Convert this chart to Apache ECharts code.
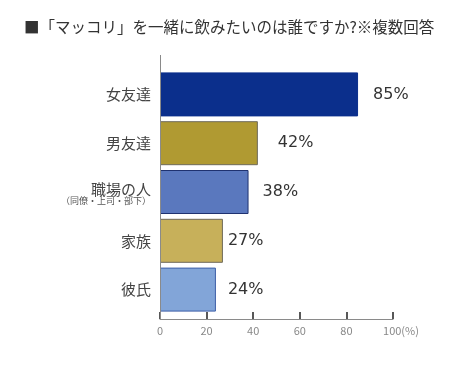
<!DOCTYPE html>
<html>
<head>
<meta charset="utf-8">
<script src="https://cdn.jsdelivr.net/npm/echarts@6/dist/echarts.min.js"></script>
<style>
html,body{margin:0;padding:0;background:#fff;}
#main{width:455px;height:377px;}
</style>
</head>
<body>
<div id="main"></div>
<script>
// 回答項目と割合(%)
var categories = ['女友達', '男友達', '職場の人', '家族', '彼氏'];
var values = [85, 42, 38, 27, 24];
var barColors = ['#0b2f8c', '#b09a32', '#5a78be', '#c7b05a', '#82a5d8'];
var borderColors = ['#0b2f8c', '#6e6a5a', '#1f3270', '#6e6a5a', '#3d5fa8'];
var labelGaps = [15, 20, 14, 5, 12];
var xTicks = [0, 20, 40, 60, 80, 100];

var font = '"Noto Sans CJK JP", "Noto Sans", sans-serif';

var dom = document.getElementById('main');
var myChart = echarts.init(dom);

var seriesData = [];
for (var i = 0; i < values.length; i++) {
    seriesData.push({
        value: values[i],
        itemStyle: {color: barColors[i], borderColor: borderColors[i], borderWidth: 1},
        label: {distance: labelGaps[i]}
    });
}

option = {
    animation: false,
    title: {
        text: '■「マッコリ」を一緒に飲みたいのは誰ですか?※複数回答',
        left: 19,
        top: 14,
        textStyle: {fontFamily: font, fontSize: 15.5, fontWeight: 'normal', color: '#333'}
    },
    grid: {left: 160, right: 62, top: 70, bottom: 63},
    xAxis: {
        type: 'value',
        min: xTicks[0],
        max: xTicks[xTicks.length - 1],
        interval: 20,
        offset: 5,
        axisLine: {show: true, lineStyle: {color: '#8a8a8a', width: 1}},
        axisTick: {show: true, inside: true, length: 7, lineStyle: {color: '#222', width: 1.5}},
        splitLine: {show: false},
        axisLabel: {
            fontFamily: font, fontSize: 11, color: '#888', margin: 6,
            formatter: function (v) {
                return v === 100 ? '{p|100(%)}' : String(v);
            },
            rich: {p: {fontFamily: font, fontSize: 11, color: '#888', padding: [0, 0, 0, 16]}}
        }
    },
    yAxis: {
        type: 'category',
        inverse: true,
        data: categories,
        axisLine: {show: false},
        axisTick: {show: false},
        axisLabel: {
            fontFamily: font, fontSize: 15, color: '#444', margin: 9,
            formatter: function (v) {
                if (v === '職場の人') {
                    return '{a|職場の人}\n{b|（同僚・上司・部下）}';
                }
                return v;
            },
            rich: {
                a: {fontFamily: font, fontSize: 15, color: '#444', lineHeight: 18, align: 'right', padding: [8, 0, 0, 0]},
                b: {fontFamily: font, fontSize: 9, color: '#555', lineHeight: 14, align: 'right'}
            }
        }
    },
    graphic: [{
        type: 'line',
        shape: {x1: 160.5, y1: 55, x2: 160.5, y2: 319},
        style: {stroke: '#8a8a8a', lineWidth: 1},
        z: 10
    }],
    series: [{
        type: 'bar',
        barWidth: 44,
        data: seriesData,
        label: {
            show: true,
            position: 'right',
            formatter: '{c}%',
            fontFamily: '"DejaVu Sans", sans-serif',
            fontSize: 16,
            color: '#333'
        }
    }]
};

if (option && typeof option === "object") {
    myChart.setOption(option, true);
}
</script>
</body>
</html>
